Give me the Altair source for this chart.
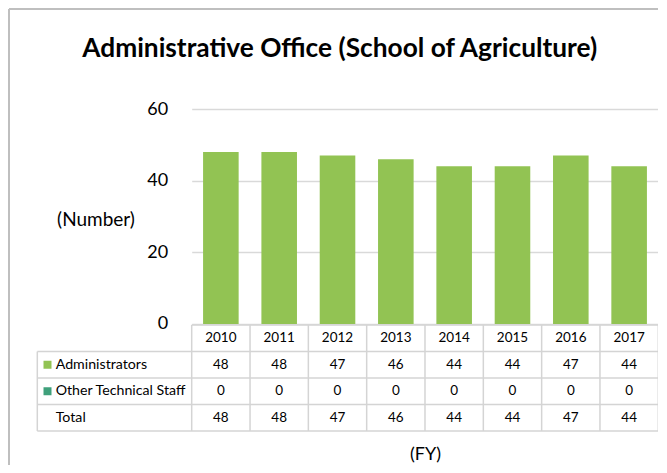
import altair as alt
import pandas as pd

# ---------------- data ----------------
years = ["2010", "2011", "2012", "2013", "2014", "2015", "2016", "2017"]
administrators = [48, 48, 47, 46, 44, 44, 47, 44]
other_technical_staff = [0, 0, 0, 0, 0, 0, 0, 0]
totals = [48, 48, 47, 46, 44, 44, 47, 44]
row_names = ["Administrators", "Other Technical Staff", "Total"]
series_names = ["Administrators", "Other Technical Staff"]
series_colors = ["#92C353", "#3FA07B"]
title_text = "Administrative Office (School of Agriculture)"
y_title = "(Number)"
x_title = "(FY)"
y_ticks = [0, 20, 40, 60]

# ---------------- layout constants ----------------
FONT = "Lato"
W, H = 466.6, 215
TABLE_TOP, TABLE_BOTTOM = 216, 322
ROW_H = (TABLE_BOTTOM - TABLE_TOP) / 4
LEFT_COL = -154.4
GRID = "#D4D4D4"

# ---------------- tables ----------------
bars_df = pd.DataFrame({
    "year": years * 2,
    "series": ["Administrators"] * len(years) + ["Other Technical Staff"] * len(years),
    "value": administrators + other_technical_staff,
    "order": [0] * len(years) + [1] * len(years),
})

cells = []
for y in years:
    cells.append({"row": "header", "year": y, "text": y})
for name, vals in zip(row_names, [administrators, other_technical_staff, totals]):
    for y, v in zip(years, vals):
        cells.append({"row": name, "year": y, "text": str(v)})
cells_df = pd.DataFrame(cells)

color_scale = alt.Scale(domain=series_names, range=series_colors)
table_x_scale = alt.Scale(domain=years, paddingInner=0, paddingOuter=0)
table_y_scale = alt.Scale(domain=["header"] + row_names, range=[TABLE_TOP, TABLE_BOTTOM],
                          paddingInner=0, paddingOuter=0)

# ---------------- bars ----------------
bars = alt.Chart(bars_df).mark_bar().encode(
    x=alt.X("year:N", scale=alt.Scale(domain=years, paddingInner=0.39, paddingOuter=0.195),
            axis=alt.Axis(labels=False, ticks=False, domain=False, grid=False,
                          title=x_title, titleX=W / 2, titleY=131, titleFont=FONT,
                          titleFontSize=18, titleFontWeight="normal", titleColor="#000",
                          titleAlign="center", titleBaseline="middle")),
    y=alt.Y("value:Q", stack="zero", scale=alt.Scale(domain=[0, 60]),
            axis=alt.Axis(values=y_ticks, grid=True, gridColor="#D9D9D9", gridWidth=1.5,
                          domain=False, ticks=False, labelPadding=24, labelFont=FONT,
                          labelFontSize=18, labelColor="#000",
                          title=y_title, titleAngle=0, titleX=-96.2, titleY=110,
                          titleAlign="center", titleBaseline="middle", titleFont=FONT,
                          titleFontSize=19, titleFontWeight="normal", titleColor="#000")),
    color=alt.Color("series:N", scale=color_scale, legend=None),
    order=alt.Order("order:Q"),
)

# ---------------- data table ----------------
cell_text = alt.Chart(cells_df).mark_text(font=FONT, fontSize=13.5, color="#000").encode(
    x=alt.X("year:N", scale=table_x_scale, axis=None),
    y=alt.Y("row:N", scale=table_y_scale, axis=None),
    text="text:N",
)

labels_df = pd.DataFrame({"row": row_names, "label": row_names})
row_labels = alt.Chart(labels_df).mark_text(font=FONT, fontSize=14.2, color="#000", align="left").encode(
    x=alt.value(-136),
    y=alt.Y("row:N", scale=table_y_scale, axis=None),
    text="label:N",
)

squares_df = pd.DataFrame({"row": series_names, "series": series_names})
squares = alt.Chart(squares_df).mark_square(size=64, opacity=1).encode(
    x=alt.value(-144.2),
    y=alt.Y("row:N", scale=table_y_scale, axis=None),
    color=alt.Color("series:N", scale=color_scale, legend=None),
)

vlines = alt.Chart(pd.DataFrame({"year": years})).mark_rule(color=GRID, strokeWidth=1.5).encode(
    x=alt.X("year:N", scale=table_x_scale, axis=None, bandPosition=0),
    y=alt.value(TABLE_TOP), y2=alt.value(TABLE_BOTTOM),
)
vline_right = alt.Chart(pd.DataFrame({"year": [years[-1]]})).mark_rule(color=GRID, strokeWidth=1.5).encode(
    x=alt.X("year:N", scale=table_x_scale, axis=None, bandPosition=1),
    y=alt.value(TABLE_TOP), y2=alt.value(TABLE_BOTTOM),
)
vline_left = alt.Chart(pd.DataFrame({"a": [0]})).mark_rule(color=GRID, strokeWidth=1.5).encode(
    x=alt.value(LEFT_COL), y=alt.value(TABLE_TOP + ROW_H), y2=alt.value(TABLE_BOTTOM),
)
hlines = alt.Chart(pd.DataFrame({"row": row_names})).mark_rule(color=GRID, strokeWidth=1.5).encode(
    y=alt.Y("row:N", scale=table_y_scale, axis=None, bandPosition=0),
    x=alt.value(LEFT_COL), x2=alt.value(W),
)
hline_bottom = alt.Chart(pd.DataFrame({"row": [row_names[-1]]})).mark_rule(color=GRID, strokeWidth=1.5).encode(
    y=alt.Y("row:N", scale=table_y_scale, axis=None, bandPosition=1),
    x=alt.value(LEFT_COL), x2=alt.value(W),
)
hline_top = alt.Chart(pd.DataFrame({"row": ["header"]})).mark_rule(color=GRID, strokeWidth=1.5).encode(
    y=alt.Y("row:N", scale=table_y_scale, axis=None, bandPosition=0),
    x=alt.value(0), x2=alt.value(W),
)

# ---------------- title & frame ----------------
title = alt.Chart(pd.DataFrame({"t": [title_text]})).mark_text(
    font=FONT, fontSize=26.3, fontWeight="bold", color="#000", align="center", baseline="middle"
).encode(x=alt.value(148), y=alt.value(-60), text="t:N")

frame_v = alt.Chart(pd.DataFrame({"a": [0]})).mark_rule(color="#BFBFBF", strokeWidth=2).encode(
    x=alt.value(-182.7), y=alt.value(-100), y2=alt.value(400))
frame_h = alt.Chart(pd.DataFrame({"a": [0]})).mark_rule(color="#BFBFBF", strokeWidth=2).encode(
    y=alt.value(-100), x=alt.value(-182.7), x2=alt.value(520))

table = alt.layer(vlines, vline_right, vline_left, hlines, hline_bottom, hline_top,
                  cell_text, row_labels, squares)

chart = alt.layer(bars, table, title, frame_v, frame_h).resolve_scale(
    x="independent", y="independent", color="independent"
).properties(
    width=W, height=H,
    autosize=alt.AutoSizeParams(type="none"),
    padding={"left": 183.7, "top": 101, "right": 0, "bottom": 141},
    background="white",
).configure_view(stroke=None)

chart.save("out.html", embed_options={"renderer": "svg", "actions": False})
